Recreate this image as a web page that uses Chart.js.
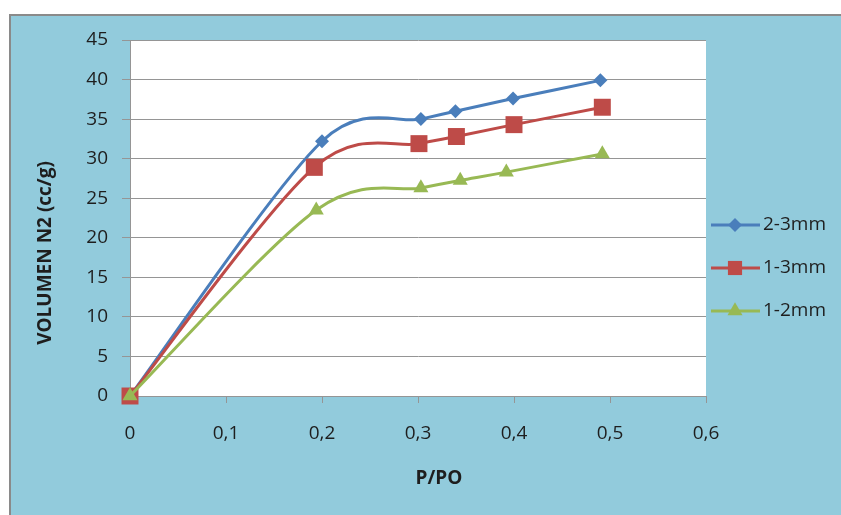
<!DOCTYPE html>
<html>
<head>
<meta charset="utf-8">
<script src="https://cdn.jsdelivr.net/npm/chart.js@4/dist/chart.umd.min.js"></script>
<style>
  body { margin: 0; background: #fff; }
  #panel {
    position: absolute; left: 9px; top: 14px; width: 832px; height: 501px;
    background: #92cbdc; border-left: 2px solid #8a8a8a; border-top: 2px solid #8a8a8a;
    box-sizing: border-box;
  }
  #chart { position: absolute; left: 0; top: 0; }
</style>
</head>
<body>
<div id="panel"></div>
<canvas id="chart" width="841" height="515"></canvas>
<script>
const seriesNames = ['2-3mm', '1-3mm', '1-2mm'];
const seriesColors = ['#4a7ebb', '#be4b48', '#98b954'];
const seriesMarkers = ['rectRot', 'rect', 'triangle'];
const markerSizes = [7, 12, 8.7];

// P/PO readings for each sample
const xBlue = [0, 0.2, 0.303, 0.339, 0.399, 0.49];
const xRed = [0, 0.192, 0.301, 0.340, 0.400, 0.492];
const xGreen = [0, 0.194, 0.303, 0.344, 0.392, 0.492];

// adsorbed N2 volume (cc/g)
const yBlue = [0, 32.2, 35.0, 36.0, 37.6, 39.9];
const yRed = [0, 28.9, 31.9, 32.8, 34.3, 36.5];
const yGreen = [0, 23.5, 26.3, 27.25, 28.3, 30.6];

const yTicks = [0, 5, 10, 15, 20, 25, 30, 35, 40, 45];
const xTicks = [0, 0.1, 0.2, 0.3, 0.4, 0.5, 0.6];

const xTitle = 'P/PO';
const yTitle = 'VOLUMEN N2 (cc/g)';

const font = 'Open Sans';
const textColor = '#1e1e1e';
const gridColor = '#959595';

function toPoints(xs, ys) {
  return xs.map((x, i) => ({ x: x, y: ys[i] }));
}

const allX = [xBlue, xRed, xGreen];
const allY = [yBlue, yRed, yGreen];

const datasets = seriesNames.map((name, i) => ({
  label: name,
  data: toPoints(allX[i], allY[i]),
  borderColor: seriesColors[i],
  backgroundColor: seriesColors[i],
  borderWidth: 3,
  pointStyle: seriesMarkers[i],
  pointRadius: markerSizes[i],
  pointHoverRadius: markerSizes[i],
  pointBorderWidth: 0,
  tension: 0.4,
  clip: false,
  order: 3 - i
}));

// white plot area on the blue panel
const plotBackground = {
  id: 'plotBackground',
  beforeDraw(chart) {
    const a = chart.chartArea;
    chart.ctx.save();
    chart.ctx.fillStyle = '#ffffff';
    chart.ctx.fillRect(a.left, a.top, a.right - a.left, a.bottom - a.top);
    chart.ctx.restore();
  }
};

function handle(dx, dy, maxLen) {
  const len = Math.hypot(dx, dy);
  const k = len > maxLen && len > 0 ? maxLen / len : 1;
  return [dx * k, dy * k];
}

// spreadsheet-style smoothing: Catmull-Rom handles (1/6 of neighbour span),
// kept within about half of the adjacent segment
const evenSmoothing = {
  id: 'evenSmoothing',
  beforeDatasetsDraw(chart) {
    chart.getSortedVisibleDatasetMetas().forEach(meta => {
      meta.dataset.updateControlPoints(chart.chartArea, 'x');
      const pts = meta.data;
      pts.forEach((p, i) => {
        const prev = pts[Math.max(i - 1, 0)];
        const next = pts[Math.min(i + 1, pts.length - 1)];
        const dx = (next.x - prev.x) / 6;
        const dy = (next.y - prev.y) / 6;
        const back = handle(dx, dy, 0.55 * Math.hypot(p.x - prev.x, p.y - prev.y));
        const fwd = handle(dx, dy, 0.55 * Math.hypot(next.x - p.x, next.y - p.y));
        p.cp1x = p.x - back[0];
        p.cp1y = p.y - back[1];
        p.cp2x = p.x + fwd[0];
        p.cp2y = p.y + fwd[1];
      });
    });
  }
};

// axis titles, placed like the original sheet
const axisTitles = {
  id: 'axisTitles',
  afterDraw(chart) {
    const ctx = chart.ctx;
    const area = chart.chartArea;
    ctx.save();
    ctx.fillStyle = textColor;
    ctx.font = 'bold 19px "' + font + '"';
    ctx.textAlign = 'center';
    ctx.textBaseline = 'middle';
    ctx.fillText(xTitle, (area.left + area.right) / 2 + 21, area.bottom + 83);
    ctx.translate(46, (area.top + area.bottom) / 2 + 35);
    ctx.rotate(-Math.PI / 2);
    ctx.fillText(yTitle, 0, 0);
    ctx.restore();
  }
};

// legend on the right: line with marker through it
const sideLegend = {
  id: 'sideLegend',
  afterDraw(chart) {
    const ctx = chart.ctx;
    const left = chart.chartArea.right + 5;
    ctx.save();
    chart.data.datasets.forEach((ds, i) => {
      const y = 225 + i * 43;
      ctx.strokeStyle = ds.borderColor;
      ctx.lineWidth = 3;
      ctx.beginPath();
      ctx.moveTo(left, y);
      ctx.lineTo(left + 49, y);
      ctx.stroke();
      ctx.fillStyle = ds.backgroundColor;
      Chart.helpers.drawPoint(ctx, {
        pointStyle: ds.pointStyle,
        radius: ds.pointStyle === 'rect' ? 10 : ds.pointRadius,
        borderWidth: 0
      }, left + 24, y);
      ctx.fillStyle = textColor;
      ctx.font = '19px "' + font + '"';
      ctx.textAlign = 'left';
      ctx.textBaseline = 'middle';
      ctx.fillText(ds.label, left + 52, y);
    });
    ctx.restore();
  }
};

new Chart(document.getElementById('chart'), {
  type: 'line',
  data: { datasets: datasets },
  options: {
    responsive: false,
    animation: false,
    layout: { padding: { left: 0, top: 40, right: 135, bottom: 0 } },
    plugins: {
      legend: { display: false },
      tooltip: { enabled: false }
    },
    scales: {
      x: {
        type: 'linear',
        min: 0,
        max: 0.6,
        afterFit(scale) { scale.height = 119; },
        afterBuildTicks(scale) { scale.ticks = xTicks.map(v => ({ value: v })); },
        grid: { drawOnChartArea: false, drawTicks: true, tickLength: 7, color: gridColor },
        border: { color: gridColor, width: 1 },
        ticks: {
          padding: 19,
          color: textColor,
          font: { family: font, size: 19 },
          callback: v => (v === 0 ? '0' : v.toFixed(1).replace('.', ','))
        }
      },
      y: {
        min: 0,
        max: 45,
        afterFit(scale) { scale.width = 130; },
        afterBuildTicks(scale) { scale.ticks = yTicks.map(v => ({ value: v })); },
        grid: { color: gridColor, tickLength: 8 },
        border: { color: gridColor, width: 1 },
        ticks: {
          padding: 14,
          color: textColor,
          font: { family: font, size: 19 }
        }
      }
    }
  },
  plugins: [plotBackground, evenSmoothing, axisTitles, sideLegend]
});
</script>
</body>
</html>
